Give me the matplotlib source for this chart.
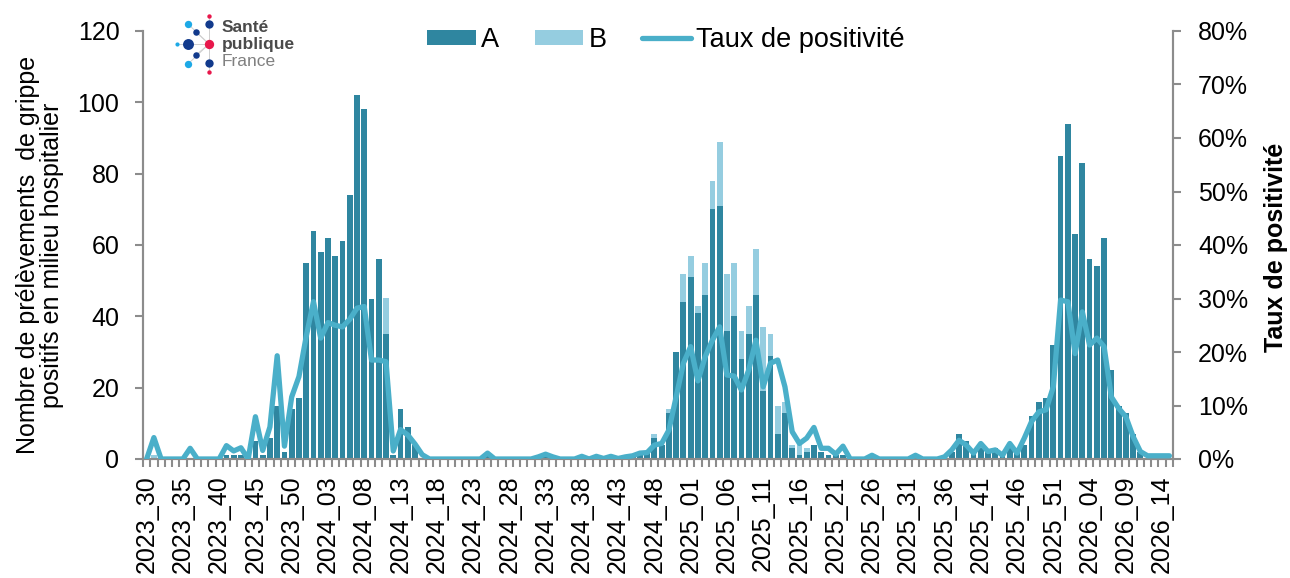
import numpy as np
import matplotlib.pyplot as plt
from matplotlib.ticker import FuncFormatter

plt.rcParams['font.family'] = ['Liberation Sans', 'DejaVu Sans']

# Semaines 2023_30 -> 2026_15
annees = [2023] * 23 + [2024] * 52 + [2025] * 52 + [2026] * 15
semaines = list(range(30, 53)) + list(range(1, 53)) + list(range(1, 53)) + list(range(1, 16))
labels = [f"{a}_{s:02d}" for a, s in zip(annees, semaines)]

# Nombre de prélèvements positifs - grippe A
grippe_a = [
    0, 0, 0, 0, 0, 0, 0, 0, 0, 0,
    0, 1, 1, 1, 0, 5, 1, 6, 15, 2,
    14, 17, 55, 64, 58, 62, 57, 61, 74, 102,
    98, 45, 56, 35, 1, 14, 9, 4, 0, 0,
    0, 0, 0, 0, 0, 0, 0, 1, 0, 0,
    0, 0, 0, 0, 0, 1, 0, 0, 0, 0,
    0, 0, 0, 0, 1, 0, 0, 1, 1, 2,
    6, 4, 13, 30, 44, 51, 41, 46, 70, 71,
    36, 40, 28, 35, 46, 19, 29, 7, 13, 3,
    1, 2, 4, 2, 1, 1, 1, 0, 0, 0,
    0, 0, 0, 0, 0, 0, 0, 0, 0, 0,
    1, 2, 7, 5, 2, 3, 2, 3, 2, 4,
    2, 4, 12, 16, 17, 32, 85, 94, 63, 83,
    56, 54, 62, 25, 15, 13, 7, 2, 0, 0,
    0, 0,
]

# Nombre de prélèvements positifs - grippe B
grippe_b = [
    0, 1, 0, 0, 0, 0, 0, 0, 0, 0,
    0, 0, 0, 0, 0, 0, 0, 0, 0, 0,
    0, 0, 0, 0, 0, 0, 0, 0, 0, 0,
    0, 0, 0, 10, 0, 0, 0, 0, 0, 0,
    0, 0, 0, 0, 0, 0, 0, 0, 0, 0,
    0, 0, 0, 0, 0, 0, 0, 0, 0, 0,
    0, 0, 0, 0, 0, 0, 0, 0, 0, 0,
    1, 0, 1, 0, 8, 6, 2, 9, 8, 18,
    16, 15, 8, 8, 13, 18, 6, 8, 3, 1,
    3, 1, 0, 0, 0, 0, 0, 0, 0, 0,
    0, 0, 0, 0, 0, 0, 0, 0, 0, 0,
    0, 0, 0, 0, 0, 0, 0, 0, 0, 0,
    0, 0, 0, 0, 0, 0, 0, 0, 0, 0,
    0, 0, 0, 0, 0, 0, 0, 0, 0, 0,
    0, 0,
]

# Taux de positivité (%)
taux = [
    0, 4, 0, 0, 0, 0, 2, 0, 0, 0,
    0, 2.5, 1.5, 2.1, 0, 7.9, 1.6, 6, 19.3, 2.4,
    11.6, 15.4, 22.9, 29.4, 22.6, 25.5, 25, 24.7, 26.1, 28.2,
    28.5, 18.5, 18.5, 18.2, 1.5, 5.5, 4.5, 2.8, 0.8, 0,
    0, 0, 0, 0, 0, 0, 0, 1.1, 0, 0,
    0, 0, 0, 0, 0.4, 0.9, 0.4, 0, 0, 0,
    0.5, 0, 0.5, 0.1, 0.5, 0.1, 0.4, 0.6, 1.1, 1.2,
    2.6, 2.9, 5.4, 11.6, 17.9, 21, 14.6, 19.1, 22.2, 24.7,
    15.7, 15.5, 12.9, 16.6, 22.2, 13.5, 17.9, 18.5, 13.5, 5.1,
    2.9, 3.9, 5.9, 2, 2, 0.9, 2.4, 0, 0, 0,
    0.7, 0, 0, 0, 0, 0, 0.7, 0, 0, 0,
    0.4, 1.7, 3.5, 2.6, 1.1, 2.9, 1.4, 1.7, 0.7, 2.9,
    1.1, 3.9, 7, 8.8, 9.2, 13.5, 29.7, 29.4, 19.7, 27.5,
    21.3, 22.6, 21, 11.6, 9.5, 7.9, 4.2, 1.4, 0.6, 0.6,
    0.6, 0.6,
]

col_a = '#2F86A0'
col_b = '#95CDE0'
col_line = '#4AAFC9'
gris = '#8C8C8C'

x = np.arange(len(labels))
a = np.array(grippe_a)
b = np.array(grippe_b)
t = np.array(taux) / 100

fig = plt.figure(figsize=(12.9, 5.78), dpi=100)
ax = fig.add_axes([143 / 1290, 1 - 459 / 578, 1030 / 1290, 428 / 578])
ax2 = ax.twinx()

ax.bar(x, a, width=0.8, color=col_a, label='A', zorder=2)
ax.bar(x, b, width=0.8, bottom=a, color=col_b, label='B', zorder=2)
ax2.plot(x, t, color=col_line, linewidth=3.8, label='Taux de positivité',
         solid_joinstyle='round', solid_capstyle='round', zorder=3)

ax.set_xlim(-0.5, len(labels) - 0.5)
ax.set_ylim(0, 120)
ax2.set_ylim(0, 0.8)
ax.set_yticks(range(0, 121, 20))
ax2.set_yticks(np.arange(0, 0.81, 0.1))
ax2.yaxis.set_major_formatter(FuncFormatter(lambda v, p: f"{v * 100:.0f}%"))

# Axe X : étiquettes toutes les 5 semaines, petits traits entre barres
ax.set_xticks(x[::5])
ax.set_xticklabels(labels[::5], rotation=90)
ax.set_xticks(np.arange(-0.5, len(labels), 1), minor=True)
ax.tick_params(axis='x', which='major', length=0, pad=12, labelsize=18)
ax.tick_params(axis='x', which='minor', length=6, width=1.5, color=gris, direction='out')
ax.tick_params(axis='y', length=6, width=1.5, color=gris, labelsize=18, pad=11)
ax2.tick_params(axis='y', length=6, width=1.5, color=gris, labelsize=18, pad=12)

for axe in (ax, ax2):
    axe.spines['top'].set_visible(False)
    for s in ('left', 'right', 'bottom'):
        axe.spines[s].set_color(gris)
        axe.spines[s].set_linewidth(1.5)

fig.text(40 / 1290, 1 - 255 / 578,
         "Nombre de prélèvements  de grippe\npositifs en milieu hospitalier",
         rotation=90, ha='center', va='center', fontsize=18, multialignment='center',
         linespacing=1.0)
fig.text(1276 / 1290, 1 - 247 / 578, "Taux de positivité", rotation=90,
         ha='center', va='center', fontsize=18, fontweight='bold')

h1, l1 = ax.get_legend_handles_labels()
h2, l2 = ax2.get_legend_handles_labels()
fig.legend(h1 + h2, l1 + l2, loc='center', bbox_to_anchor=(666 / 1290, 1 - 40 / 578),
           ncol=3, frameon=False, fontsize=19.5, handlelength=1.8, handleheight=0.5,
           handletextpad=0.2, columnspacing=1.3)

# Logo Santé publique France
logo = fig.add_axes([0, 0, 1, 1], facecolor='none')
logo.set_xlim(0, 1290)
logo.set_ylim(578, 0)
logo.axis('off')
cx, cy = 209, 44
pts = [(209, 16, 10, '#E8174B'), (209, 24, 36, '#123A8C'), (188, 24, 28, '#1DA9E6'),
       (196, 32, 22, '#123A8C'), (177, 44, 9, '#1DA9E6'), (188, 44, 62, '#123A8C'),
       (209, 44, 45, '#E8174B'), (196, 55, 22, '#123A8C'), (188, 64, 28, '#1DA9E6'),
       (209, 63, 36, '#123A8C'), (209, 72, 10, '#E8174B')]
for px, py, s, c in pts:
    logo.plot([cx, px], [cy, py], color='#D0D0D0', linewidth=0.7, zorder=1)
for px, py, s, c in pts:
    logo.scatter(px, py, s=s, color=c, zorder=2, linewidths=0)
logo.text(222, 28, "Santé", fontsize=12.5, fontweight='bold', color='#4A4A4A', va='center')
logo.text(222, 45, "publique", fontsize=12.5, fontweight='bold', color='#4A4A4A', va='center')
logo.text(222, 62, "France", fontsize=12.5, color='#808080', va='center')

fig.savefig('out.png', dpi=100)
